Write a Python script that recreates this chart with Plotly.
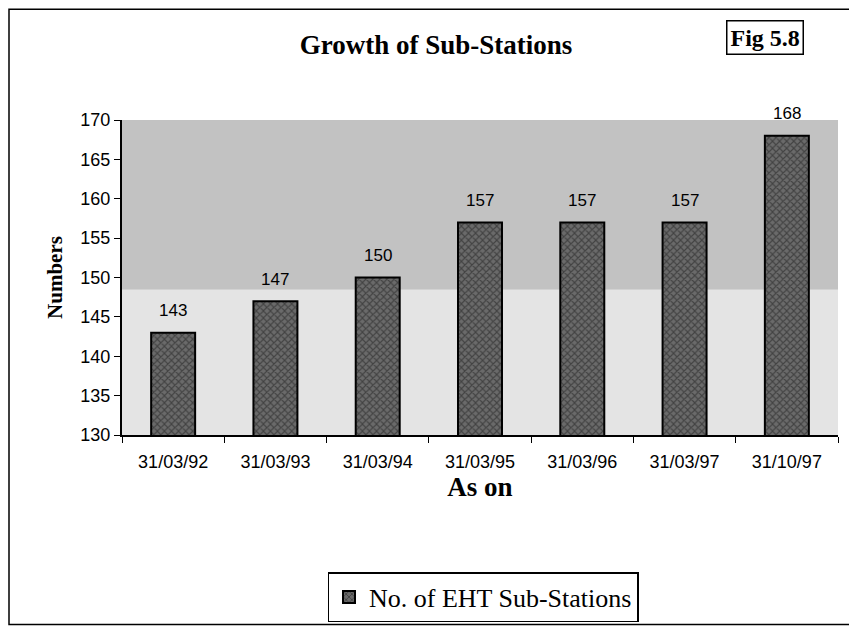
import plotly.graph_objects as go

categories = ["31/03/92", "31/03/93", "31/03/94", "31/03/95", "31/03/96", "31/03/97", "31/10/97"]
values = [143, 147, 150, 157, 157, 157, 168]
series_name = "No. of EHT Sub-Stations"
y_ticks = [130, 135, 140, 145, 150, 155, 160, 165, 170]

OFF = 8  # page body margin
W, H = 857 - OFF, 632 - OFF
L, R, T, B = 122 - OFF, 19, 120 - OFF, 196
pw, ph = W - L - R, H - T - B

def px(x):
    return (x - OFF - L) / pw

def py(y):
    return (H - B - (y - OFF)) / ph

SERIF = "Liberation Serif, Times New Roman, serif"
SANS = "Liberation Sans, Arial, sans-serif"

fig = go.Figure()
fig.add_trace(go.Bar(
    x=categories, y=values, name=series_name,
    width=0.43,
    marker=dict(color="#4a4a4a", line=dict(color="black", width=2),
                pattern=dict(shape="x", fgcolor="#1a1a1a", bgcolor="#6a6a6a", size=5, solidity=0.4)),
    showlegend=True,
))

value_labels = [
    dict(x=c, y=v, xref="x", yref="y", text=str(v), showarrow=False, yshift=22,
         xanchor="center", yanchor="middle",
         font=dict(family=SANS, size=17, color="black"))
    for c, v in zip(categories, values)
]

fig.update_layout(
    width=W, height=H,
    margin=dict(l=L, r=R, t=T, b=B),
    paper_bgcolor="white",
    plot_bgcolor="#e4e4e4",
    title=dict(text="<b>Growth of Sub-Stations</b>", xref="container", x=(436 - OFF) / W, xanchor="center",
               yref="container", y=1 - (45 - OFF) / H, yanchor="middle",
               font=dict(family=SERIF, size=27, color="black")),
    xaxis=dict(showgrid=False, ticks="outside", tickson="boundaries", ticklen=6,
               tickcolor="black", showline=True, linecolor="black", linewidth=2,
               ticklabelstandoff=9,
               tickfont=dict(family=SANS, size=18, color="black"),
               title=dict(text="<b>As on</b>", standoff=2,
                          font=dict(family=SERIF, size=27, color="black"))),
    yaxis=dict(range=[130, 170], tickvals=y_ticks, showgrid=False, ticks="outside", ticklen=6,
               tickcolor="black", showline=True, linecolor="black", linewidth=2, mirror=False,
               tickfont=dict(family=SANS, size=18, color="black"),
               title=dict(text="<b>Numbers</b>", standoff=12,
                          font=dict(family=SERIF, size=21, color="black"))),
    legend=dict(orientation="h", x=px(483), xanchor="center", y=py(597), yanchor="middle",
                bordercolor="black", borderwidth=1.5, bgcolor="white",
                font=dict(family=SERIF, size=26, color="black")),
    shapes=[
        dict(type="rect", xref="paper", yref="paper", x0=px(OFF + 1), x1=px(851), y0=py(626), y1=py(OFF + 1),
             line=dict(color="black", width=1.5), layer="below"),
        dict(type="rect", xref="paper", yref="paper", x0=0, x1=1, y0=py(290), y1=1,
             fillcolor="#b4b4b4", line=dict(width=0), layer="below", opacity=0.7),
    ],
    annotations=value_labels + [
        dict(text="<b>Fig 5.8</b>", xref="paper", yref="paper", x=px(765), y=py(37),
             xanchor="center", yanchor="middle", showarrow=False,
             bordercolor="black", borderwidth=1.5, borderpad=3, bgcolor="white",
             font=dict(family=SERIF, size=24, color="black")),
    ],
)

fig.write_html("out.html")
